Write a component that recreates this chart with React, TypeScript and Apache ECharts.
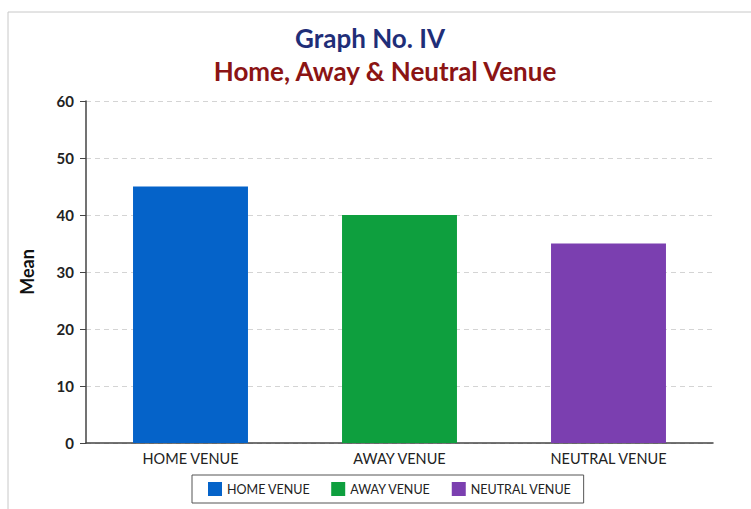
import React, { useEffect, useRef } from "react";
import * as echarts from "echarts";

const categories = ["HOME VENUE", "AWAY VENUE", "NEUTRAL VENUE"];
const means = [45, 40, 35];
const colors = ["#0563C9", "#0E9F3E", "#7B3FB0"];
const yTicks = { min: 0, max: 60, interval: 10 };

export default function App() {
  const ref = useRef<HTMLDivElement>(null);
  useEffect(() => {
    document.body.style.margin = "0";
    const chart = echarts.init(ref.current!, null, { renderer: "svg" });
    const font = "Lato, 'Open Sans', sans-serif";
    chart.setOption({
      animation: false,
      backgroundColor: "#ffffff",
      textStyle: { fontFamily: font },
      title: [
        {
          text: "Graph No. IV",
          left: 365,
          top: 20,
          textAlign: "center",
          textStyle: { color: "#1F2E78", fontSize: 26, fontWeight: "bold", fontFamily: font },
        },
        {
          text: "Home, Away & Neutral Venue",
          left: 380,
          top: 53,
          textAlign: "center",
          textStyle: { color: "#8B1414", fontSize: 26, fontWeight: "bold", fontFamily: font },
        },
      ],
      graphic: [
        {
          type: "rect",
          shape: { x: 8, y: 12, width: 800, height: 600 },
          style: { fill: "none", stroke: "#c8c8c8", lineWidth: 1 },
          silent: true,
        },
      ],
      legend: {
        bottom: 6,
        left: 192,
        width: 390,
        itemWidth: 14,
        itemHeight: 14,
        itemGap: 21,
        padding: [7, 12, 7, 16],
        borderColor: "#555",
        borderWidth: 1,
        textStyle: { fontSize: 12.5, color: "#222", fontFamily: font },
        data: categories.map((c, i) => ({ name: c, icon: "rect", itemStyle: { color: colors[i] } })),
      },
      grid: { left: 86, right: 38, top: 101, bottom: 66 },
      xAxis: {
        type: "category",
        data: categories,
        axisLine: { lineStyle: { color: "#444", width: 1.5 } },
        axisTick: { show: false },
        axisLabel: { color: "#222", fontSize: 14.5, margin: 8 },
      },
      yAxis: {
        type: "value",
        min: yTicks.min,
        max: yTicks.max,
        interval: yTicks.interval,
        name: "Mean",
        nameLocation: "middle",
        nameGap: 50,
        nameRotate: 90,
        nameTextStyle: { fontSize: 18, fontWeight: "bold", color: "#111" },
        axisLine: { show: true, lineStyle: { color: "#444", width: 1.5 } },
        axisTick: { show: true, length: 6, lineStyle: { color: "#444" } },
        axisLabel: { color: "#222", fontSize: 15, fontWeight: "bold", margin: 12 },
        splitLine: { lineStyle: { color: "#d4d4d4", type: [5, 4] } },
      },
      series: categories.map((c, i) => ({
        name: c,
        type: "bar",
        stack: "v",
        barWidth: "55%",
        itemStyle: { color: colors[i] },
        data: categories.map((_, j) => (j === i ? means[i] : null)),
      })),
    });
    return () => chart.dispose();
  }, []);
  return <div ref={ref} style={{ position: "fixed", left: 0, top: 0, width: 751, height: 509 }} />;
}
